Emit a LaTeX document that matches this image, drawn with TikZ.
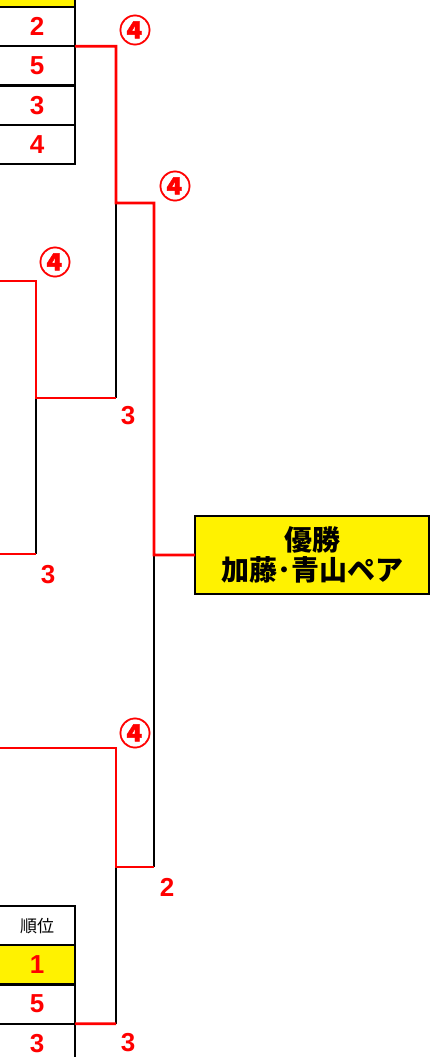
\documentclass[tikz,border=0pt]{standalone}
\usepackage{fontspec}
\setmainfont{Noto Sans CJK JP}
\newfontfamily\digitfont{Liberation Sans}
\newfontfamily\circfont{Noto Sans CJK JP}[FakeBold=1.2]
\tikzset{
  cell/.style={draw, line width=2pt, minimum width=76pt, minimum height=39.25pt, inner sep=0pt, outer sep=0pt},
  score/.style={text=red, font=\digitfont\bfseries\fontsize{26}{26}\selectfont},
  circ/.style={text=red, font=\circfont\bfseries\fontsize{32}{32}\selectfont},
  win/.style={red, line width=2.6pt},
  lose/.style={black, line width=2.6pt}
}
\begin{document}
\begin{tikzpicture}[x=1pt,y=-1pt]
\useasboundingbox (0,0) rectangle (430,1057);
\clip (0,0) rectangle (430,1057);
% upper table
\node[cell, fill=yellow] (t0) at (37,-12.6) {};
\node[cell, score] (t1) at (37,26.6) {2};
\node[cell, score] (t2) at (37,65.9) {5};
\node[cell, score] (t3) at (37,105.1) {3};
\node[cell, score] (t4) at (37,144.4) {4};
% lower table
\node[cell, font=\fontsize{17}{17}\selectfont] (b0) at (37,925.6) {順位};
\node[cell, score, fill=yellow] (b1) at (37,964.9) {1};
\node[cell, score] (b2) at (37,1004.1) {5};
\node[cell, score] (b3) at (37,1043.4) {3};
% winner
\node[draw, line width=2.4pt, fill=yellow, minimum width=234pt, minimum height=78pt, inner sep=0pt, outer sep=0pt, align=center, font=\bfseries\fontsize{28}{30}\selectfont] (champ) at (312,555) {優勝\\加藤･青山ペア};
% junctions
\coordinate (a1) at (116,46.25);
\coordinate (a2) at (116,203);
\coordinate (a3) at (116,398);
\coordinate (s1) at (0,281);
\coordinate (s2) at (36,281);
\coordinate (s3) at (36,398);
\coordinate (s4) at (36,554);
\coordinate (s5) at (0,554);
\coordinate (f1) at (154,203);
\coordinate (f2) at (154,555);
\coordinate (f3) at (154,867);
\coordinate (d1) at (0,748);
\coordinate (d2) at (116,748);
\coordinate (d3) at (116,867);
\coordinate (d4) at (116,1023.75);
% lost sides
\draw[lose] (a2) -- (a3);
\draw[lose] (s3) -- (s4);
\draw[lose] (f2) -- (f3);
\draw[lose] (d3) -- (d4);
% won sides
\draw[win] (t1.south east) -- (a1) -- (a2) -- (f1) -- (f2) -- (champ.west);
\draw[win] (s1) -- (s2) -- (s3) -- (a3);
\draw[win] (s5) -- (s4);
\draw[win] (d1) -- (d2) -- (d3) -- (f3);
\draw[win] (b2.south east) -- (d4);
% scores
\node[circ] (c1) at (135,30) {④};
\node[circ] (c2) at (175,186) {④};
\node[circ] (c3) at (55,262) {④};
\node[circ] (c4) at (135,733) {④};
\node[score] (n1) at (128,415.5) {3};
\node[score] (n2) at (48,575) {3};
\node[score] (n3) at (167,887) {2};
\node[score] (n4) at (128,1043) {3};
\end{tikzpicture}
\end{document}
